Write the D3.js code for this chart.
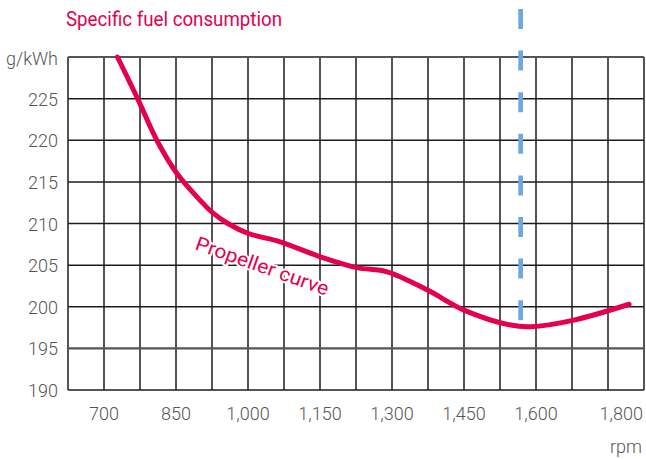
<!DOCTYPE html>
<html>
<head>
<meta charset="utf-8">
<script src="https://cdn.jsdelivr.net/npm/d3@7"></script>
<style>
  html, body { margin: 0; padding: 0; background: #fff; }
  svg { display: block; }
</style>
</head>
<body>
<svg id="chart" width="646" height="459"></svg>
<script>
// ---- data ----
const rpm = [728, 770, 810, 852, 900, 926, 958, 1001, 1067, 1151, 1227, 1290, 1374, 1450, 1547, 1589, 1679, 1794];
const sfc = [230, 225, 220, 216.0, 212.8, 211.3, 210, 208.8, 207.8, 206.0, 204.7, 204.2, 202.0, 199.6, 197.8, 197.6, 198.4, 200.3];
const xTickValues = [700, 850, 1000, 1150, 1300, 1450, 1600, 1800];
const xTickLabels = ["700", "850", "1,000", "1,150", "1,300", "1,450", "1,600", "1,800"];
const yTickValues = [190, 195, 200, 205, 210, 215, 220, 225];
const yUnit = "g/kWh";
const xUnit = "rpm";
const ratedRpm = 1568;
const title = "Specific fuel consumption";
const curveLabel = "Propeller curve";

// ---- layout ----
const svg = d3.select("#chart");
const mLeft = 68, mRight = 644, mTop = 57, mBottom = 390;
const red = "#e4004e";
const gray = "#555";

// x: 75 rpm per grid column (16 columns)
const x = d3.scaleLinear().domain([625, 1825]).range([mLeft, mRight]);
const y = d3.scaleLinear().domain([190, 230]).range([mBottom, mTop]);

// grid
const g = svg.append("g");
const colEdges = d3.range(625, 1825 + 1, 75);
g.selectAll("line.v").data(colEdges).join("line")
  .attr("class", "v")
  .attr("x1", d => x(d)).attr("x2", d => x(d))
  .attr("y1", y(230)).attr("y2", y(190))
  .attr("stroke", "#1c1c1c").attr("stroke-width", 1.5);
const rowLines = d3.range(190, 231, 5);
g.selectAll("line.h").data(rowLines).join("line")
  .attr("class", "h")
  .attr("x1", x(625)).attr("x2", x(1825))
  .attr("y1", d => y(d)).attr("y2", d => y(d))
  .attr("stroke", d => (d === 195 || d === 230) ? gray : "#1c1c1c")
  .attr("stroke-width", d => (d === 195 || d === 230) ? 2.2 : 1.5);

// y tick labels
svg.append("g").selectAll("text").data(yTickValues).join("text")
  .attr("x", 58).attr("y", d => y(d) + 7)
  .attr("text-anchor", "end")
  .attr("font-family", "Roboto, sans-serif").attr("font-weight", 300)
  .attr("font-size", 18).attr("fill", gray)
  .text(d => d);
svg.append("text")
  .attr("x", 58).attr("y", y(230) + 8)
  .attr("text-anchor", "end")
  .attr("font-family", "Roboto, sans-serif").attr("font-weight", 300)
  .attr("font-size", 18).attr("fill", gray)
  .text(yUnit);

// x tick labels
svg.append("g").selectAll("text").data(xTickValues).join("text")
  .attr("x", (d, i) => i === xTickValues.length - 1 ? mRight - 1 : x(d))
  .attr("y", 420)
  .attr("text-anchor", (d, i) => i === xTickValues.length - 1 ? "end" : "middle")
  .attr("font-family", "Roboto, sans-serif").attr("font-weight", 300)
  .attr("font-size", 18).attr("fill", gray)
  .text((d, i) => xTickLabels[i]);
svg.append("text")
  .attr("x", mRight - 2).attr("y", 453)
  .attr("text-anchor", "end")
  .attr("font-family", "Roboto, sans-serif").attr("font-weight", 300)
  .attr("font-size", 18).attr("fill", gray)
  .text(xUnit);

// title
svg.append("text")
  .attr("x", 66).attr("y", 26)
  .attr("font-family", "Roboto, sans-serif")
  .attr("font-size", 20).attr("fill", red)
  .attr("textLength", 216).attr("lengthAdjust", "spacingAndGlyphs")
  .text(title);

// curve label with white halo
svg.append("text")
  .attr("transform", "translate(194,249) rotate(19.5)")
  .attr("font-family", "Roboto, sans-serif")
  .attr("font-size", 19.5).attr("fill", red)
  .attr("stroke", "#fff").attr("stroke-width", 4).attr("paint-order", "stroke")
  .attr("stroke-linejoin", "round")
  .attr("textLength", 140).attr("lengthAdjust", "spacingAndGlyphs")
  .text(curveLabel);

// rated speed dashed line
svg.append("line")
  .attr("x1", x(ratedRpm)).attr("x2", x(ratedRpm))
  .attr("y1", 9).attr("y2", y(197.9))
  .attr("stroke", "#6fa8de").attr("stroke-width", 4.7)
  .attr("stroke-dasharray", "20 21.6");

// curve
const pts = rpm.map((r, i) => [r, sfc[i]]);
svg.append("path")
  .datum(pts)
  .attr("d", d3.line().x(d => x(d[0])).y(d => y(d[1])).curve(d3.curveCatmullRom.alpha(0.5)))
  .attr("fill", "none").attr("stroke", red).attr("stroke-width", 5)
  .attr("stroke-linecap", "round");
</script>
</body>
</html>
